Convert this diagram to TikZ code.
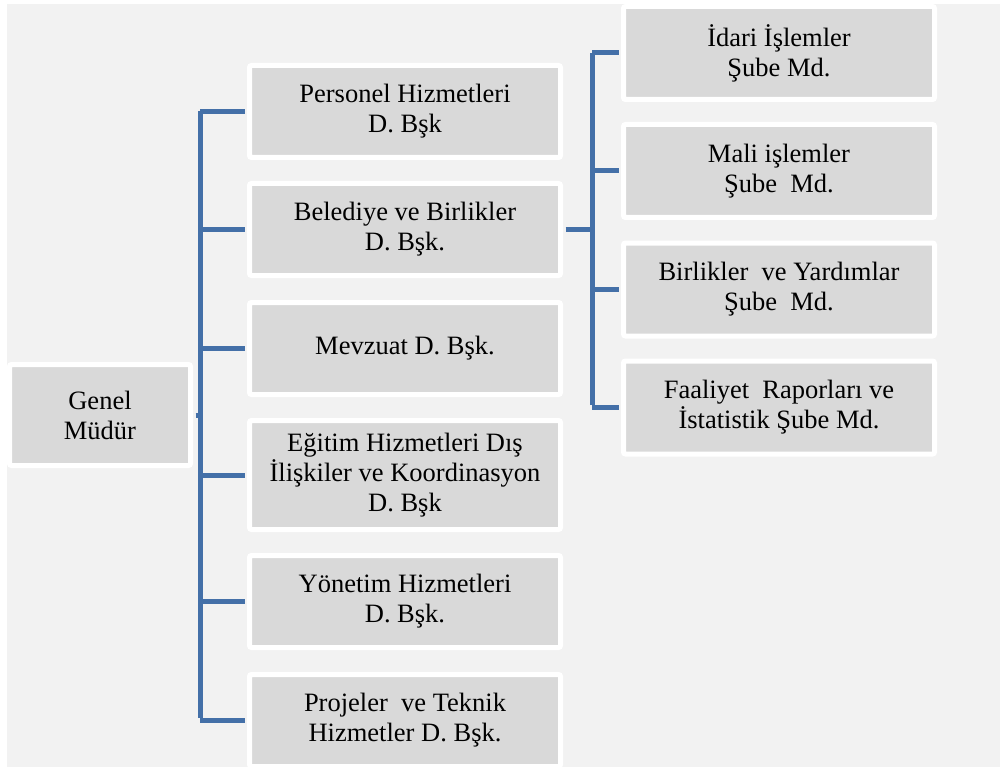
\documentclass[tikz,border=0pt]{standalone}
\usepackage{fontspec}
\setmainfont{Liberation Serif}
\definecolor{bgc}{HTML}{F2F2F2}
\definecolor{boxc}{HTML}{D9D9D9}
\definecolor{linec}{HTML}{4470A8}
\begin{document}
\begin{tikzpicture}[x=1pt,y=-1pt,
  orgbox/.style={draw=white, line width=5pt, fill=boxc, rounded corners=2pt,
    inner sep=0pt, align=center, minimum width=311pt, minimum height=92pt,
    font=\fontsize{26.5}{30}\selectfont, text=black},
  conn/.style={draw=linec, line width=5pt, shorten >=2.5pt, shorten <=2.5pt}]
\useasboundingbox (0,0) rectangle (1000,767);
\fill[white] (0,0) rectangle (1000,767);
\fill[bgc] (7,4) rectangle (1000,767);
% root
\node[orgbox, minimum width=181pt, minimum height=101pt] (g) at (100,415) {Genel\\Müdür};
% left column
\node[orgbox] (p1) at (405,111.5) {Personel Hizmetleri\\D. Bşk};
\node[orgbox] (p2) at (405,229.5) {Belediye ve Birlikler\\D. Bşk.};
\node[orgbox] (p3) at (405,348.5) {Mevzuat D. Bşk.};
\node[orgbox, minimum height=109pt] (p4) at (405,475) {Eğitim Hizmetleri Dış\\İlişkiler ve Koordinasyon\\D. Bşk};
\node[orgbox] (p5) at (405,601.5) {Yönetim Hizmetleri\\D. Bşk.};
\node[orgbox] (p6) at (405,720.5) {Projeler\ \ ve Teknik\\Hizmetler D. Bşk.};
% right column
\node[orgbox, minimum height=93pt] (r1) at (779,53) {İdari İşlemler\\Şube Md.};
\node[orgbox, minimum height=93pt] (r2) at (779,171) {Mali işlemler\\Şube\ \ Md.};
\node[orgbox, minimum height=93pt] (r3) at (779,289.5) {Birlikler\ \ ve Yardımlar\\Şube\ \ Md.};
\node[orgbox, minimum height=93pt] (r4) at (779,407.5) {Faaliyet\ \ Raporları ve\\İstatistik Şube Md.};
% trunks
\coordinate (lt) at (200,0);
\coordinate (rt) at (592,0);
\draw[conn, shorten <=0pt] (lt |- p1.west) -- (lt |- p6.west);
\draw[conn, shorten <=0pt] (rt |- r1.west) -- (rt |- r4.west);
% branches
\foreach \n in {p1,p2,p3,p4,p5,p6} {
  \draw[conn] ([xshift=-2.5pt]lt |- \n.west) -- (\n.west);
}
\foreach \n in {r1,r2,r3,r4} {
  \draw[conn] ([xshift=-2.5pt]rt |- \n.west) -- (\n.west);
}
\draw[conn, shorten >=0pt] (g.east) -- (lt |- g.east);
\draw[conn, shorten >=0pt] (p2.east) -- (rt |- p2.east);
\end{tikzpicture}
\end{document}
